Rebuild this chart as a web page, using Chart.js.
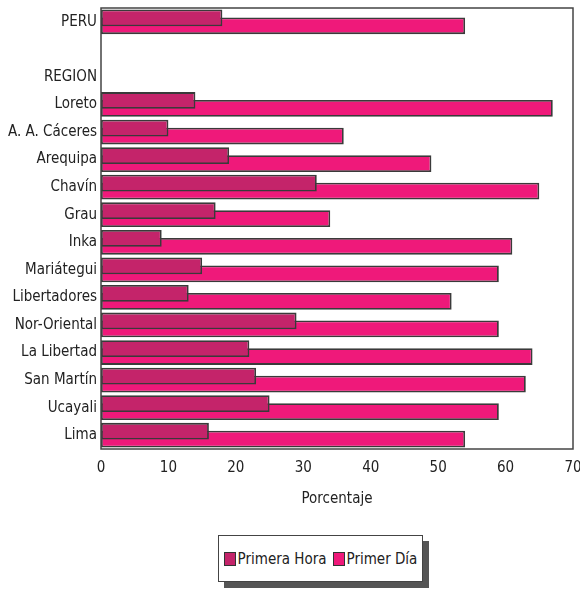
<!DOCTYPE html>
<html>
<head>
<meta charset="utf-8">
<script src="https://cdn.jsdelivr.net/npm/chart.js@4/dist/chart.umd.min.js"></script>
<style>
  html, body { margin: 0; padding: 0; background: #fff; }
  #wrap { position: relative; width: 580px; height: 591px; }
  #chartBox { position: absolute; left: 0; top: 0; width: 580px; height: 520px; }
  #legend {
    position: absolute; left: 218px; top: 535px; width: 205px; height: 47px;
    box-sizing: border-box; border: 1.5px solid #444; background: #fff;
    box-shadow: 6px 6px 0 #555;
    display: flex; align-items: center; justify-content: center; gap: 6px;
    font-family: "Liberation Sans Narrow", "Arial Narrow", "DejaVu Sans Condensed", sans-serif;
    font-size: 15px; color: #222;
  }
  #legend .item { display: flex; align-items: center; gap: 2px; }
  #legend .sw { width: 12px; height: 14px; border: 1.5px solid #333; box-sizing: border-box; }
</style>
</head>
<body>
<div id="wrap">
  <div id="chartBox"><canvas id="c"></canvas></div>
  <div id="legend"></div>
</div>
<script>
// Categories: national total, spacer, region heading, then the regions
const categories = ["PERU", "", "REGION", "Loreto", "A. A. Cáceres", "Arequipa", "Chavín", "Grau",
  "Inka", "Mariátegui", "Libertadores", "Nor-Oriental", "La Libertad", "San Martín", "Ucayali", "Lima"];

// Percentages
const primeraHora = [18, null, null, 14, 10, 19, 32, 17, 9, 15, 13, 29, 22, 23, 25, 16];
const primerDia   = [54, null, null, 67, 36, 49, 65, 34, 61, 59, 52, 59, 64, 63, 59, 54];

const seriesNames = ["Primera Hora", "Primer Día"];
const xTicks = [0, 10, 20, 30, 40, 50, 60, 70];

const seriesColors = ["#c4246a", "#ef197a"];
const edgeColor = "#3a3a3a";
const fontFamily = '"Liberation Sans Narrow", "Arial Narrow", "DejaVu Sans Condensed", sans-serif';

// Frame around the plot area
const frame = {
  id: "frame",
  afterDatasetsDraw(chart) {
    const { ctx, chartArea: a } = chart;
    ctx.save();
    ctx.strokeStyle = "#444";
    ctx.lineWidth = 1.5;
    ctx.strokeRect(a.left, a.top, a.right - a.left, a.bottom - a.top);
    ctx.restore();
  }
};

// Let the end tick labels run past the plot edges
function noEdgePadding(scale) {
  scale.paddingLeft = 0;
  scale.paddingRight = 0;
  scale.paddingTop = 0;
  scale.paddingBottom = 0;
}

const chart = new Chart(document.getElementById("c"), {
  type: "bar",
  data: {
    labels: categories,
    datasets: [
      { label: seriesNames[0], data: primeraHora, backgroundColor: seriesColors[0],
        borderColor: edgeColor, borderWidth: 1.8, borderSkipped: false },
      { label: seriesNames[1], data: primerDia, backgroundColor: seriesColors[1],
        borderColor: edgeColor, borderWidth: 1.8, borderSkipped: false }
    ]
  },
  options: {
    indexAxis: "y",
    responsive: true,
    maintainAspectRatio: false,
    animation: false,
    datasets: { bar: { categoryPercentage: 0.58, barPercentage: 2.1 } },
    layout: { padding: { left: 0, right: 7, top: 8, bottom: 12 } },
    plugins: { legend: { display: false }, tooltip: { enabled: false } },
    scales: {
      x: {
        min: 0, max: 70,
        afterBuildTicks(scale) { scale.ticks = xTicks.map(v => ({ value: v })); },
        afterFit: noEdgePadding,
        grid: { display: false, drawTicks: false },
        border: { display: false },
        ticks: { padding: 10, color: "#222", font: { family: fontFamily, size: 15 } },
        title: { display: true, text: "Porcentaje", color: "#222", padding: { top: 3, bottom: 0 },
                 font: { family: fontFamily, size: 15 } }
      },
      y: {
        grid: { display: false, drawTicks: false },
        border: { display: false },
        afterFit(scale) { scale.width = 101; noEdgePadding(scale); },
        ticks: { padding: 4, color: "#222", autoSkip: false, font: { family: fontFamily, size: 15 } }
      }
    }
  },
  plugins: [frame]
});

// Boxed legend built from the datasets
const legend = document.getElementById("legend");
chart.data.datasets.forEach(ds => {
  const item = document.createElement("div");
  item.className = "item";
  const sw = document.createElement("span");
  sw.className = "sw";
  sw.style.background = ds.backgroundColor;
  const txt = document.createElement("span");
  txt.textContent = ds.label;
  item.appendChild(sw);
  item.appendChild(txt);
  legend.appendChild(item);
});
</script>
</body>
</html>
